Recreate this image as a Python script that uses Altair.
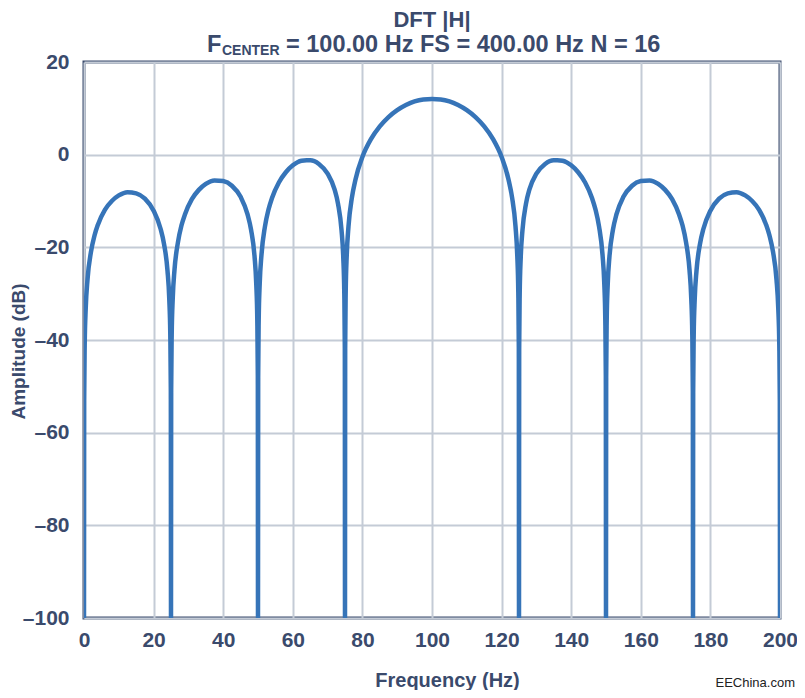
import altair as alt
import pandas as pd

# Frequency points (Hz), lobe by lobe
freq_hz = [
    0, 0.05, 0.2, 0.5, 1, 2, 3, 4, 6, 8, 10, 12.5, 15, 17.5, 20, 22, 23, 24, 24.5, 24.8, 24.95,
    25, 25.05, 25.2, 25.5, 26, 27, 28, 29, 31, 33, 35, 37.5, 40, 42.5, 45, 47, 48, 49, 49.5, 49.8, 49.95,
    50, 50.05, 50.2, 50.5, 51, 52, 53, 54, 56, 58, 60, 62.5, 64, 65, 67.5, 70, 72, 73, 74, 74.5, 74.8, 74.95,
    75, 75.05, 75.2, 75.5, 76, 77, 78, 80, 82.5, 85, 87.5, 90, 92.5, 95, 97.5, 100,
    102.5, 105, 107.5, 110, 112.5, 115, 117.5, 120, 122, 123, 124, 124.5, 124.8, 124.95,
    125, 125.05, 125.2, 125.5, 126, 127, 128, 130, 132.5, 135, 136, 137.5, 140, 142, 144, 146, 147, 148, 149, 149.5, 149.8, 149.95,
    150, 150.05, 150.2, 150.5, 151, 152, 153, 155, 157.5, 160, 162.5, 165, 167, 169, 171, 172, 173, 174, 174.5, 174.8, 174.95,
    175, 175.05, 175.2, 175.5, 176, 177, 178, 180, 182.5, 185, 187.5, 190, 192, 194, 196, 197, 198, 199, 199.5, 199.8, 199.95, 200,
]

# Amplitude (dB) at those points
amp_db = [
    -100, -53.1, -41.1, -33.1, -27.0, -21.0, -17.5, -15.1, -11.9, -10.0, -8.8, -8.1, -8.35, -9.5, -12.1, -16.0, -19.3, -25.1, -31.1, -39.0, -51.0,
    -100, -51.0, -38.9, -31.0, -24.9, -18.9, -15.3, -12.9, -9.6, -7.6, -6.3, -5.55, -5.7, -6.7, -9.1, -12.9, -16.2, -21.9, -27.9, -35.8, -47.8,
    -100, -47.8, -35.7, -27.7, -21.6, -15.5, -11.9, -9.4, -6.0, -3.8, -2.3, -1.3, -1.2, -1.2, -2.0, -4.1, -7.5, -10.6, -16.3, -22.1, -30.0, -41.9,
    -100, -41.8, -29.7, -21.7, -15.5, -9.2, -5.4, -0.5, 3.4, 6.1, 8.1, 9.6, 10.7, 11.5, 11.9, 12.0,
    11.9, 11.5, 10.7, 9.6, 8.1, 6.1, 3.4, -0.5, -5.4, -9.2, -15.5, -21.7, -29.7, -41.8,
    -100, -41.9, -30.0, -22.1, -16.3, -10.6, -7.5, -4.1, -2.0, -1.2, -1.2, -1.3, -2.3, -3.8, -6.0, -9.4, -11.9, -15.5, -21.6, -27.7, -35.7, -47.8,
    -100, -47.8, -35.8, -27.9, -21.9, -16.2, -12.9, -9.1, -6.7, -5.7, -5.55, -6.3, -7.6, -9.6, -12.9, -15.3, -18.9, -24.9, -31.0, -38.9, -51.0,
    -100, -51.0, -39.0, -31.1, -25.1, -19.3, -16.0, -12.1, -9.5, -8.35, -8.1, -8.8, -10.0, -11.9, -15.1, -17.5, -21.0, -27.0, -33.1, -41.1, -53.1, -100,
]

x_ticks = [0, 20, 40, 60, 80, 100, 120, 140, 160, 180, 200]
y_ticks = [-100, -80, -60, -40, -20, 0, 20]

df = pd.DataFrame({"freq": freq_hz, "amp": amp_db})

NAVY = "#3a4a6c"
BLUE = "#3674b8"
GRID = "#c4cbd6"
FONT = "Liberation Sans"

W, H = 696, 556

line = alt.Chart(df).mark_line(
    color=BLUE, strokeWidth=4.5, clip=True, interpolate="monotone"
).encode(
    x=alt.X(
        "freq:Q",
        scale=alt.Scale(domain=[0, 200], nice=False, zero=False),
        axis=alt.Axis(
            values=x_ticks, title="Frequency (Hz)", ticks=False, domain=False,
            grid=True, gridColor=GRID, gridWidth=2, labelFlush=False,
            labelFont=FONT, labelFontSize=21, labelFontWeight="bold", labelColor=NAVY,
            labelPadding=11,
            titleFont=FONT, titleFontSize=20, titleFontWeight="bold", titleColor=NAVY,
            titleX=363, titleY=62, titleBaseline="middle",
        ),
    ),
    y=alt.Y(
        "amp:Q",
        scale=alt.Scale(domain=[-100, 20], nice=False, zero=False),
        axis=alt.Axis(
            values=y_ticks, title="Amplitude (dB)", ticks=False, domain=False,
            grid=True, gridColor=GRID, gridWidth=2, labelFlush=False,
            labelExpr="datum.value < 0 ? '\u2013' + abs(datum.value) : datum.label",
            labelFont=FONT, labelFontSize=21, labelFontWeight="bold", labelColor=NAVY,
            labelPadding=15,
            titleFont=FONT, titleFontSize=19, titleFontWeight="bold", titleColor=NAVY,
            titleX=-66, titleY=289, titleBaseline="middle", titleAngle=-90,
        ),
    ),
)

def label(txt, x, y, size=23, align="left", weight="bold", color=NAVY):
    return alt.Chart(pd.DataFrame({"t": [txt]})).mark_text(
        font=FONT, fontSize=size, fontWeight=weight, color=color,
        align=align, baseline="alphabetic",
    ).encode(x=alt.value(x), y=alt.value(y), text="t:N")

title1 = label("DFT |H|", 348, -35, size=22, align="center")
title2a = label("F", 123, -10, size=23.5)
title2b = label("CENTER", 138, -7, size=14)
title2c = label("= 100.00 Hz FS = 400.00 Hz N = 16", 202, -10, size=23.5)
watermark = label("EEChina.com", 711, 625, size=13, align="right", weight="normal", color="#222222")

chart = alt.layer(line, title1, title2a, title2b, title2c, watermark).properties(
    width=W, height=H,
    autosize=alt.AutoSizeParams(type="none"),
    padding={"left": 76, "top": 54, "right": 17, "bottom": 72},
).configure_view(stroke=NAVY, strokeWidth=3)

chart.save("out.html", embed_options={"renderer": "svg", "actions": False})
